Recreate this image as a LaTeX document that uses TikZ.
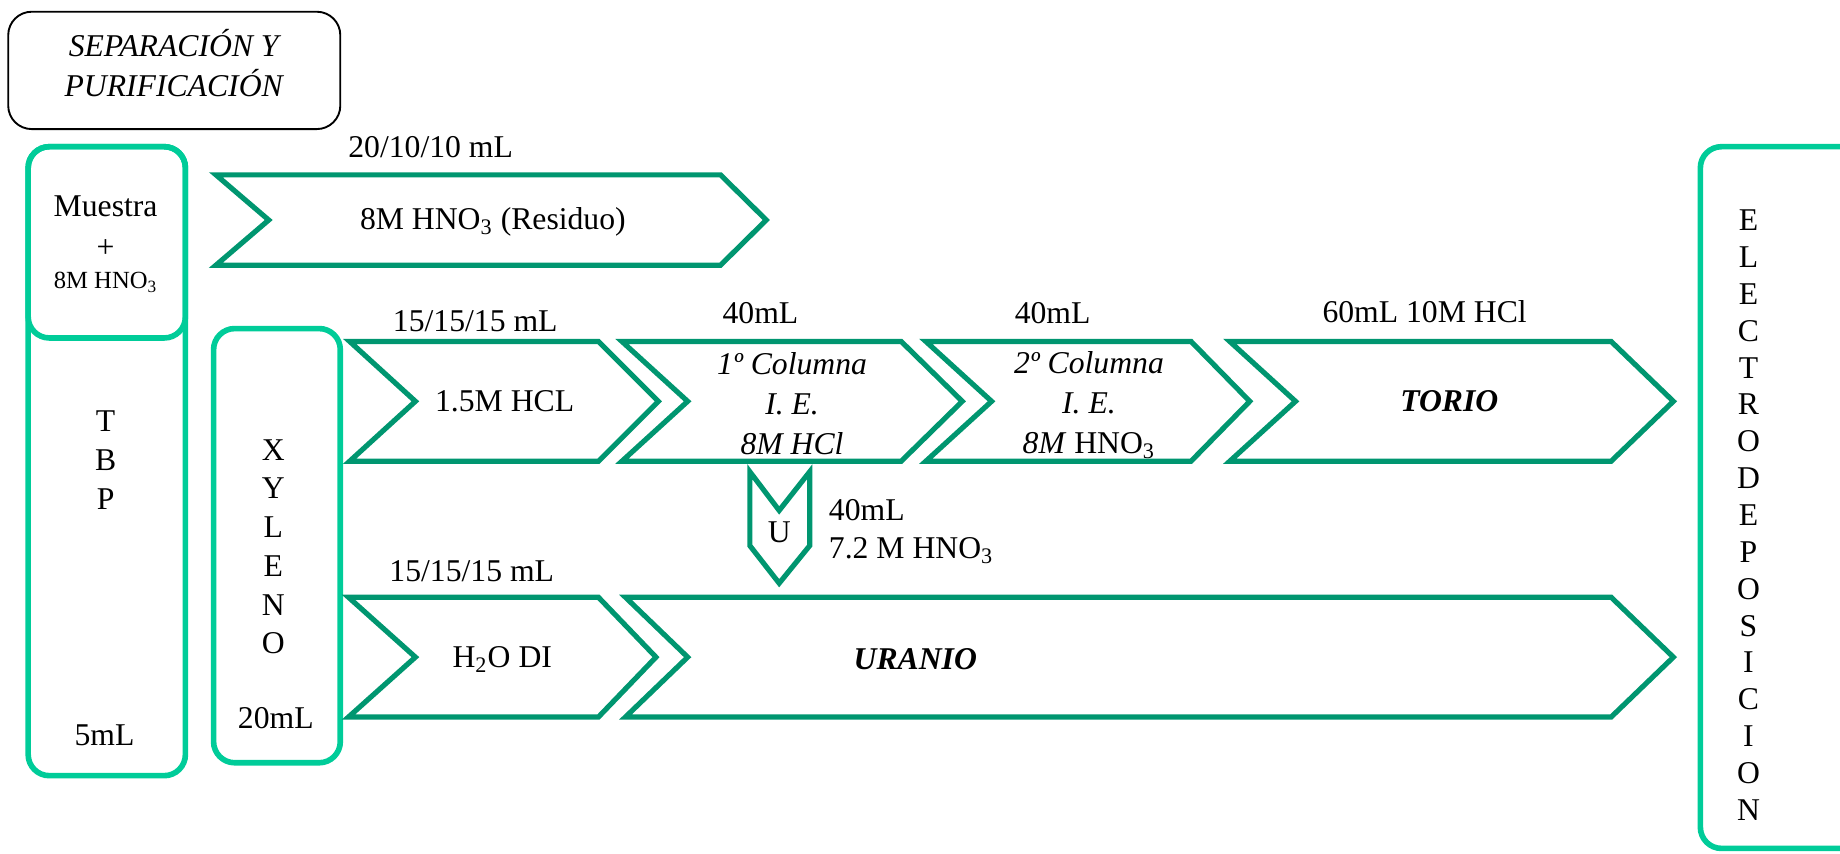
\documentclass[tikz,border=0pt]{standalone}
\usepackage{fontspec}
\setmainfont{Liberation Serif}
\definecolor{boxgreen}{HTML}{00CC99}
\definecolor{chevgreen}{HTML}{009670}

% chevron outline: left, notch, right shoulder, tip, top, bottom
\newcommand\Chev[6]{%
  \draw[chevline] (#1,#5) -- (#3,#5) -- (#4,{(#5+#6)/2}) -- (#3,#6)
    -- (#1,#6) -- (#2,{(#5+#6)/2}) -- cycle;}

\begin{document}
\begin{tikzpicture}[x=0.5pt,y=-0.5pt,
  txt/.style={inner sep=0pt, font=\fontsize{13.5}{16}\selectfont, align=center},
  stack/.style={inner sep=0pt, font=\fontsize{13.5}{16.5}\selectfont, align=center},
  small/.style={inner sep=0pt, font=\fontsize{10.5}{12}\selectfont},
  chevline/.style={draw=chevgreen, line width=2.2pt, line join=miter},
  tube/.style={draw=boxgreen, line width=2.4pt, rounded corners=9pt},
  titlebox/.style={draw=black, line width=0.8pt, rounded corners=10pt},
]
\useasboundingbox (0,0) rectangle (1568,727);

% title
\draw[titlebox] (7,10) rectangle (290,110);
\node[txt, font=\fontsize{13.5}{17}\selectfont\itshape] (title) at (148,54)
  {SEPARACIÓN Y\\PURIFICACIÓN};

% left tubes
\draw[tube] (24,125) rectangle (158,661);
\draw[tube] (24,125) rectangle (158,288);
\node[txt] (muestra) at (90,176) {Muestra};
\node[txt] (plus) at (90,212) {+};
\node[small] (acid) at (90,241) {8M HNO\textsubscript{3}};
\node[stack] (tbp) at (90,392) {T\\B\\P};
\node[txt] (tbpvol) at (89,627) {5mL};

\draw[tube] (182,280) rectangle (290,650);
\node[stack] (xyleno) at (233,466) {X\\Y\\L\\E\\N\\O};
\node[txt] (xylvol) at (235,612) {20mL};

% electrodeposition tube
\draw[tube] (1449,125) rectangle (1640,723);
\node[txt, font=\fontsize{13.5}{15.7}\selectfont] (electro) at (1490,439)
  {E\\L\\E\\C\\T\\R\\O\\D\\E\\P\\O\\S\\I\\C\\I\\O\\N};

% row 1
\Chev{184}{229}{614}{653}{149}{226}
\node[txt] (residuo) at (420,189) {8M HNO\textsubscript{3} (Residuo)};
\node[txt] (v1) at (367,125) {20/10/10 mL};

% row 2
\Chev{298}{354}{510}{561}{291}{393}
\Chev{530}{586}{768}{820}{291}{393}
\Chev{789}{845}{1015}{1065}{291}{393}
\Chev{1048}{1104}{1373}{1426}{291}{393}
\node[txt] (hcl) at (430,342) {1.5M HCL};
\node[stack, font=\fontsize{13.5}{17}\selectfont\itshape] (col1) at (675,344)
  {1º Columna\\I. E.\\8M HCl};
\node[stack, font=\fontsize{13.5}{17}\selectfont] (col2) at (928,345)
  {\textit{2º Columna}\\\textit{I. E.}\\\textit{8M} HNO\textsubscript{3}};
\node[txt, font=\fontsize{13.5}{16}\selectfont\bfseries\itshape] (torio) at (1235,342) {TORIO};
\node[txt] (v2) at (405,274) {15/15/15 mL};
\node[txt] (v3) at (648,267) {40mL};
\node[txt] (v4) at (897,267) {40mL};
\node[txt] (v5) at (1214,266) {60mL 10M HCl};

% uranium elution
\draw[chevline] (639,402) -- (664,435) -- (690,402) -- (690,465)
  -- (664,497) -- (639,465) -- cycle;
\node[txt] (u) at (664,454) {U};
\node[txt, anchor=west] (v6) at (706,435) {40mL};
\node[txt, anchor=west] (v7) at (706,469) {7.2 M HNO\textsubscript{3}};

% row 4
\Chev{297}{354}{510}{559}{509}{611}
\Chev{533}{586}{1373}{1426}{509}{611}
\node[txt] (water) at (428,562) {H\textsubscript{2}O DI};
\node[txt, font=\fontsize{13.5}{16}\selectfont\bfseries\itshape] (uranio) at (780,562) {URANIO};
\node[txt] (v8) at (402,487) {15/15/15 mL};
\end{tikzpicture}
\end{document}
